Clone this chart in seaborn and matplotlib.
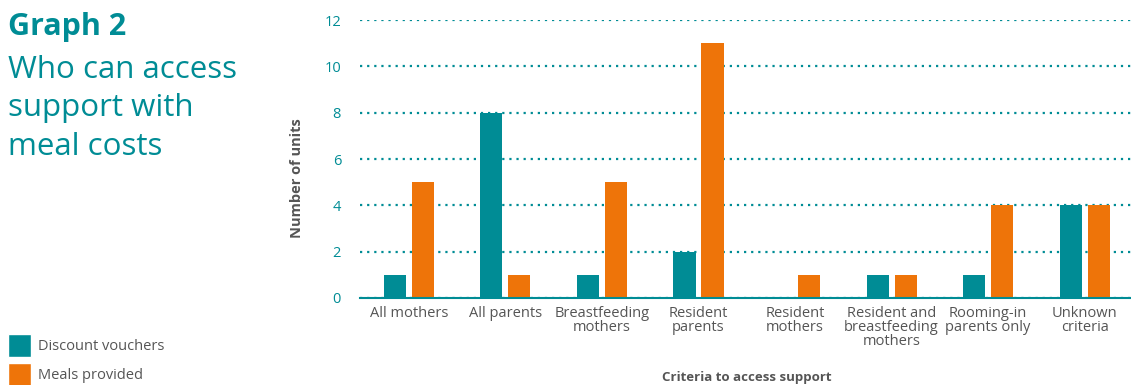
import matplotlib
matplotlib.use("Agg")
import matplotlib.pyplot as plt
import seaborn as sns
import pandas as pd
from matplotlib.patches import Patch

categories = ["All mothers", "All parents", "Breastfeeding\nmothers", "Resident\nparents",
              "Resident\nmothers", "Resident and\nbreastfeeding\nmothers",
              "Rooming-in\nparents only", "Unknown\ncriteria"]
discount_vouchers = [1, 8, 1, 2, 0, 1, 1, 4]
meals_provided = [5, 1, 5, 11, 1, 1, 4, 4]
series_names = ["Discount vouchers", "Meals provided"]
yticks = [0, 2, 4, 6, 8, 10, 12]

TEAL = "#008C95"
ORANGE = "#EE7409"
GRAY = "#555555"

sns.set_theme(style="white")
plt.rcParams['font.family'] = ['Open Sans', 'DejaVu Sans']

df = pd.DataFrame({
    "cat": categories * 2,
    "val": discount_vouchers + meals_provided,
    "series": [series_names[0]] * len(categories) + [series_names[1]] * len(categories),
})

fig = plt.figure(figsize=(11.31, 3.85), dpi=100)
ax = fig.add_axes([0.3187, 0.226, 0.6831, 0.722])
sns.barplot(data=df, x="cat", y="val", hue="series", palette=[TEAL, ORANGE],
            width=0.58, gap=0.21, ax=ax, legend=False, saturation=1, linewidth=0)

ax.set_xlim(-0.5, 7.5)
ax.set_ylim(0, 12)
ax.set_yticks(yticks)
ax.yaxis.grid(True, linestyle=(0, (1, 2.2)), color=TEAL, linewidth=1.6)
ax.set_axisbelow(True)
for s in ["left", "right", "top"]:
    ax.spines[s].set_visible(False)
ax.spines["bottom"].set_color(TEAL)
ax.spines["bottom"].set_linewidth(1.5)
ax.tick_params(axis="y", colors=TEAL, labelsize=10.5, length=0, pad=14)
ax.tick_params(axis="x", colors=GRAY, labelsize=10.5, length=0, pad=6)
for lbl in ax.get_yticklabels():
    lbl.set_color(TEAL)
for lbl in ax.get_xticklabels():
    lbl.set_linespacing(0.9)
ax.set_ylabel("Number of units", fontsize=10.5, fontweight="bold", color=GRAY)
ax.yaxis.set_label_coords(-0.073, 0.432)
ax.set_xlabel("Criteria to access support", fontsize=9.5, fontweight="bold", color=GRAY, labelpad=16)

fig.text(0.007, 0.968, "Graph 2", fontsize=22, fontweight="bold", color=TEAL, va="top")
fig.text(0.007, 0.858, "Who can access\nsupport with\nmeal costs", fontsize=22.5, color=TEAL,
         va="top", linespacing=1.38)

handles = [Patch(facecolor=TEAL, label=series_names[0]), Patch(facecolor=ORANGE, label=series_names[1])]
fig.legend(handles=handles, loc="upper left", bbox_to_anchor=(0.007, 0.1325), frameon=False,
           fontsize=10.5, labelcolor=GRAY, handlelength=1.55, handleheight=2.1,
           handletextpad=0.5, labelspacing=0.35, borderaxespad=0, borderpad=0)

fig.savefig("out.png", dpi=100)
